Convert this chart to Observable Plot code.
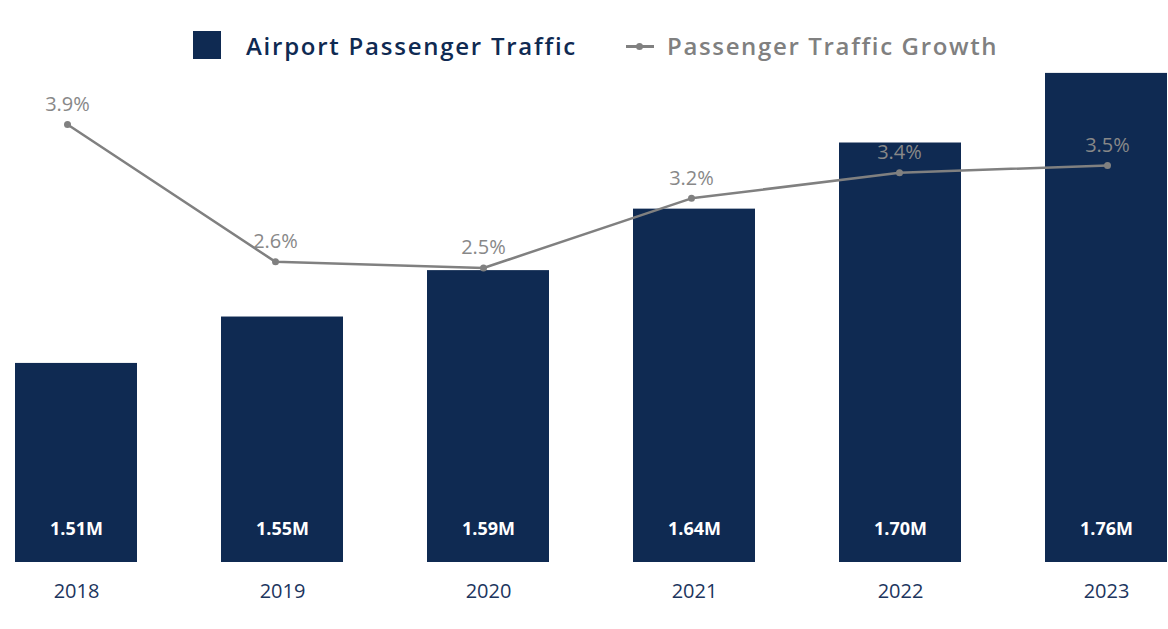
<!DOCTYPE html>
<html>
<head>
<meta charset="utf-8">
<script src="https://cdn.jsdelivr.net/npm/d3@7"></script>
<script src="https://cdn.jsdelivr.net/npm/@observablehq/plot@0.6"></script>
<style>
  html, body { margin: 0; padding: 0; background: #fff; }
  body { width: 1168px; height: 629px; overflow: hidden; font-family: "Open Sans", sans-serif; }
  #legend { position: relative; height: 70px; width: 1168px; }
  #legend .sw { position: absolute; left: 193px; top: 31px; width: 28px; height: 28px; background: #0f2a52; }
  #legend .t1 { position: absolute; left: 246px; top: 28px; font-size: 24px; line-height: 36px; font-weight: 600; color: #0f2a52; white-space: nowrap; letter-spacing: 1.75px; }
  #legend .ln { position: absolute; left: 626px; top: 45px; width: 28px; height: 2.5px; background: #808080; }
  #legend .dt { position: absolute; left: 636px; top: 42.5px; width: 7px; height: 7px; border-radius: 50%; background: #808080; }
  #legend .t2 { position: absolute; left: 667px; top: 28px; font-size: 24px; line-height: 36px; font-weight: 600; color: #808080; white-space: nowrap; letter-spacing: 1.65px; }
  #chart { position: relative; width: 1168px; height: 559px; }
  #chart svg { position: absolute; left: 0; top: 0; }
</style>
</head>
<body>
<div id="legend">
  <div class="sw"></div><div class="t1">Airport Passenger Traffic</div>
  <div class="ln"></div><div class="dt"></div><div class="t2">Passenger Traffic Growth</div>
</div>
<div id="chart"></div>
<script>
const years = ["2018", "2019", "2020", "2021", "2022", "2023"];
const traffic = [1.51, 1.55, 1.59, 1.643, 1.70, 1.76];       // millions
const growth = [3.9, 2.56, 2.5, 3.18, 3.43, 3.5];             // percent
const trafficDomain = [1.3384, 1.7625];
const growthDomain = [-0.373, 4.427];

const navy = "#0f2a52";
const gray = "#808080";

const bars = years.map((y, i) => ({year: y, value: traffic[i]}));
const pts = years.map((y, i) => ({year: y, value: growth[i]}));

const W = 1168, H = 559, MT = 0, MB = 67;

const barPlot = Plot.plot({
  width: W, height: H,
  marginTop: MT, marginBottom: MB, marginLeft: 14, marginRight: 0,
  style: {fontFamily: "'Open Sans', sans-serif", background: "transparent"},
  x: {type: "band", domain: years, paddingInner: 0.41, paddingOuter: 0, align: 0.5, label: null},
  y: {domain: trafficDomain, axis: null},
  marks: [
    Plot.barY(bars, {x: "year", y1: trafficDomain[0], y2: "value", fill: navy}),
    Plot.text(bars, {x: "year", y: () => trafficDomain[0], dy: -33, text: d => d.value.toFixed(2) + "M",
      fill: "white", fontSize: 18, fontWeight: 700}),
    Plot.axisX({tickSize: 0, tickPadding: 21, fontSize: 20, color: "#1c355e", label: null})
  ]
});

const linePlot = Plot.plot({
  width: W, height: H,
  marginTop: MT, marginBottom: MB, marginLeft: 66, marginRight: 60,
  style: {fontFamily: "'Open Sans', sans-serif", background: "transparent", pointerEvents: "none"},
  x: {type: "point", domain: years, padding: 0, axis: null},
  y: {domain: growthDomain, axis: null},
  marks: [
    Plot.line(pts, {x: "year", y: "value", stroke: gray, strokeWidth: 2.5}),
    Plot.dot(pts, {x: "year", y: "value", r: 3.5, fill: gray}),
    Plot.text(pts, {x: "year", y: "value", dy: -20, text: d => d.value.toFixed(1) + "%",
      fill: "#888888", fontSize: 20, fontWeight: 400})
  ]
});

const chart = document.getElementById("chart");
chart.appendChild(barPlot);
chart.appendChild(linePlot);
</script>
</body>
</html>
